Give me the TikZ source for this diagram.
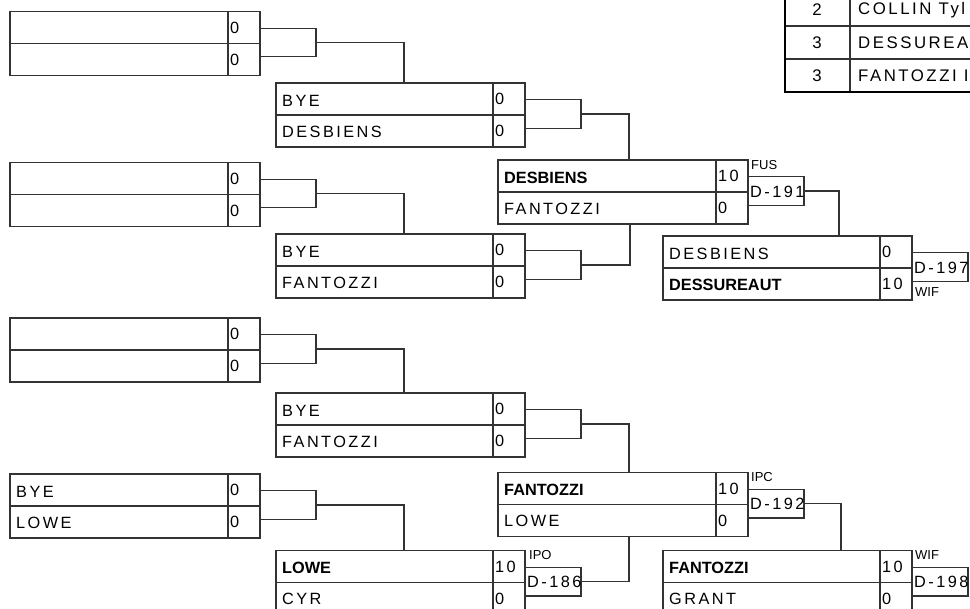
\documentclass[tikz,border=0pt]{standalone}
\usepackage{fontspec}
\setmainfont{Liberation Sans}
\newfontfamily\spcfont{Liberation Sans}[LetterSpace=15]
\newfontfamily\tightfont{Liberation Sans}
\tikzset{
  ln/.style={draw=black!80, line width=1.2pt},
  matchbox/.style={ln, rectangle, minimum width=#1, minimum height=64pt, inner sep=0pt, outer sep=0pt, anchor=north west},
  tagbox/.style={ln, rectangle, minimum width=56pt, minimum height=28.5pt, inner sep=0pt, outer sep=0pt, anchor=west},
  nmtext/.style={anchor=west, inner sep=0pt, font=\spcfont\fontsize{16.3}{16.3}\selectfont},
  tbtext/.style={inner sep=0pt, font=\spcfont\fontsize{16.8}{16.8}\selectfont},
  lbltext/.style={anchor=west, inner sep=0pt, font=\tightfont\fontsize{13}{13}\selectfont},
}
\newcommand\drawmatch[4]{% name, x, y(top, px), width
  \node[matchbox=#4] (#1) at (#2,#3) {};
  \draw[ln] (#1.west) -- (#1.east);
  \draw[ln] ([xshift=-32pt]#1.north east) -- ([xshift=-32pt]#1.south east);
}
\newcommand\matchrows[5]{% box, top name, top score, bottom name, bottom score
  \node[nmtext] at ([xshift=6pt,yshift=14.5pt]#1.west) {#2};
  \node[nmtext] at ([xshift=-30pt,yshift=16pt]#1.east) {#3};
  \node[nmtext] at ([xshift=6pt,yshift=-16.5pt]#1.west) {#4};
  \node[nmtext] at ([xshift=-30pt,yshift=-16pt]#1.east) {#5};
}
\newcommand\tagtext[2]{% tag node, text
  \begin{scope}
    \clip (#1.south west) rectangle (#1.north east);
    \node[nmtext] at ([xshift=2pt,yshift=-0.5pt]#1.west) {#2};
  \end{scope}
}
\newcommand\bld[1]{{\tightfont\bfseries #1}}
\begin{document}
\begin{tikzpicture}[x=1pt,y=-1pt]
\useasboundingbox (0,0) rectangle (970,609);
\clip (0,0) rectangle (970,609);

% ---- round 1
\drawmatch{ra}{10}{11.5}{250pt}
\drawmatch{rb}{10}{162.5}{250pt}
\drawmatch{rc}{10}{318}{250pt}
\drawmatch{rd}{10}{474}{250pt}
\matchrows{ra}{}{0}{}{0}
\matchrows{rb}{}{0}{}{0}
\matchrows{rc}{}{0}{}{0}
\matchrows{rd}{BYE}{0}{LOWE}{0}
\node[tagbox] (ba) at ([yshift=1pt]ra.east) {};
\node[tagbox] (bb) at ([yshift=1pt]rb.east) {};
\node[tagbox] (bc) at ([yshift=1pt]rc.east) {};
\node[tagbox] (bd) at ([yshift=1pt]rd.east) {};

% ---- round 2
\drawmatch{sa}{276}{83}{249pt}
\drawmatch{sb}{276}{234}{249pt}
\drawmatch{sc}{276}{393}{249pt}
\drawmatch{sd}{276}{550.7}{249pt}
\matchrows{sa}{BYE}{0}{DESBIENS}{0}
\matchrows{sb}{BYE}{0}{FANTOZZI}{0}
\matchrows{sc}{BYE}{0}{FANTOZZI}{0}
\matchrows{sd}{\bld{LOWE}}{10}{CYR}{0}
\node[tagbox] (ca) at ([yshift=1pt]sa.east) {};
\node[tagbox] (cb) at ([yshift=1pt]sb.east) {};
\node[tagbox] (cc) at ([yshift=1pt]sc.east) {};
\node[tagbox] (cd) at ([yshift=1pt]sd.east) {};
\tagtext{cd}{D-186}
\node[lbltext] at ([xshift=4pt,yshift=12pt]cd.north west) {IPO};

\draw[ln] (ba.east) -| ([xshift=128pt]sa.north west);
\draw[ln] (bb.east) -| ([xshift=128pt]sb.north west);
\draw[ln] (bc.east) -| ([xshift=128pt]sc.north west);
\draw[ln] (bd.east) -| ([xshift=128pt]sd.north west);

% ---- round 3
\drawmatch{ta}{498}{160}{250pt}
\drawmatch{tb}{498}{472.7}{250pt}
\matchrows{ta}{\bld{DESBIENS}}{10}{FANTOZZI}{0}
\matchrows{tb}{\bld{FANTOZZI}}{10}{LOWE}{0}
\node[tagbox] (da) at ([yshift=1pt]ta.east) {};
\node[tagbox] (db) at ([yshift=1pt]tb.east) {};
\tagtext{da}{D-191}
\tagtext{db}{D-192}
\node[lbltext] at ([xshift=3pt,yshift=12pt]da.north west) {FUS};
\node[lbltext] at ([xshift=3pt,yshift=12pt]db.north west) {IPC};

\draw[ln] (ca.east) -| ([xshift=131pt]ta.north west);
\draw[ln] (cb.east) -| ([xshift=132pt]ta.south west);
\draw[ln] (cc.east) -| ([xshift=131pt]tb.north west);
\draw[ln] (cd.east) -| ([xshift=131pt]tb.south west);

% ---- round 4
\drawmatch{ua}{663}{236}{249pt}
\drawmatch{ub}{663}{550.7}{249pt}
\matchrows{ua}{DESBIENS}{0}{\bld{DESSUREAUT}}{10}
\matchrows{ub}{\bld{FANTOZZI}}{10}{GRANT}{0}
\node[tagbox] (ea) at ([yshift=1pt]ua.east) {};
\node[tagbox] (eb) at ([yshift=1pt]ub.east) {};
\tagtext{ea}{D-197}
\tagtext{eb}{D-198}
\node[lbltext] at ([xshift=3pt,yshift=-11pt]ea.south west) {WIF};
\node[lbltext] at ([xshift=3pt,yshift=12pt]eb.north west) {WIF};

\draw[ln] (da.east) -| ([xshift=176pt]ua.north west);
\draw[ln] (db.east) -| ([xshift=178pt]ub.north west);

% ---- standings table (top right)
\draw[ln] (850,-5) -- (850,92);
\draw[ln] (785,26) -- (975,26);
\draw[ln] (785,59) -- (975,59);
\draw[draw=black, line width=2.2pt] (785,-5) -- (785,92) -- (975,92);
\node[tbtext] (n1) at (817,10) {2};
\node[tbtext] (n2) at (817,43) {3};
\node[tbtext] (n3) at (817,76) {3};
\node[tbtext, anchor=west] (p1) at (858,10) {COLLIN Tyl};
\node[tbtext, anchor=west] (p2) at (858,43) {DESSUREA};
\node[tbtext, anchor=west] (p3) at (858,76) {FANTOZZI I};
\end{tikzpicture}
\end{document}
